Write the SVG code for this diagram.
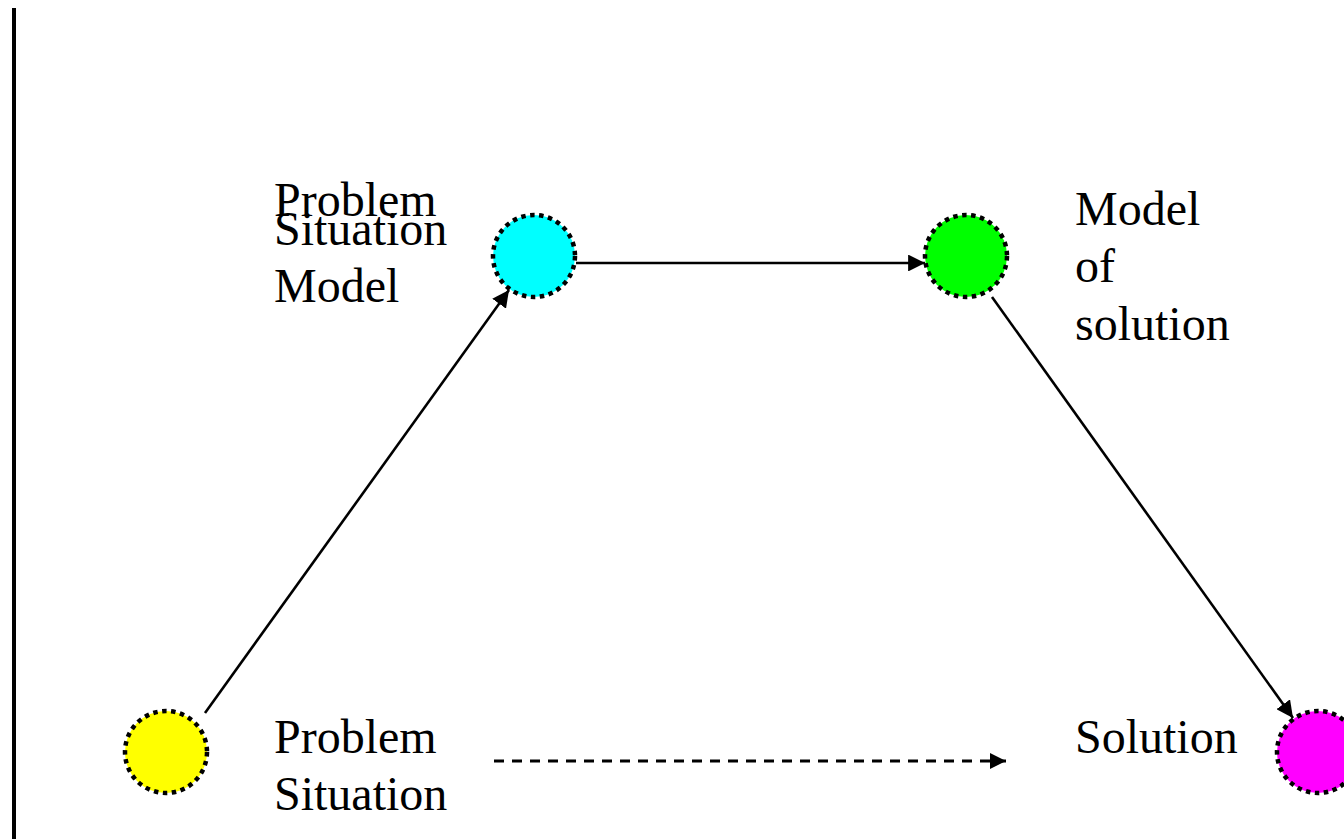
<svg xmlns="http://www.w3.org/2000/svg" width="1344" height="839" viewBox="0 0 1344 839">
  <style>
    .node circle { stroke: #000; stroke-width: 4.5; stroke-dasharray: 4.5 4.5; }
    .label { font-family: "Liberation Serif", "Times New Roman", serif; font-size: 48px; fill: #000; }
    .edge { stroke: #000; stroke-width: 2.6; fill: none; }
    .dashed { stroke-width: 3; stroke-dasharray: 10 8; }
  </style>
  <defs>
    <marker id="arrow" viewBox="0 0 10 10" refX="10" refY="5" markerWidth="6.5" markerHeight="6.5" markerUnits="strokeWidth" orient="auto">
      <path d="M0,0 L10,5 L0,10 z" fill="#000"/>
    </marker>
    <marker id="arrow-dashed" viewBox="0 0 10 10" refX="10" refY="5" markerWidth="5.5" markerHeight="5.5" markerUnits="strokeWidth" orient="auto">
      <path d="M0,0 L10,5 L0,10 z" fill="#000"/>
    </marker>
  </defs>

  <rect width="1344" height="839" fill="#fff"/>
  <!-- left border rule -->
  <rect x="12" y="8" width="4" height="831" fill="#000"/>

  <g id="connectors">
    <line class="edge" x1="205" y1="713" x2="509" y2="290" marker-end="url(#arrow)"/>
    <line class="edge" x1="576" y1="263" x2="925" y2="263" marker-end="url(#arrow)"/>
    <line class="edge" x1="992" y1="297" x2="1293" y2="718" marker-end="url(#arrow)"/>
    <line class="edge dashed" x1="494" y1="761" x2="1006" y2="761" marker-end="url(#arrow-dashed)"/>
  </g>

  <g id="problem-situation" class="node">
    <circle cx="166" cy="752" r="41" fill="#ffff00"/>
    <text class="label" x="274" y="753">Problem</text>
    <text class="label" x="274" y="810">Situation</text>
  </g>

  <g id="problem-situation-model" class="node">
    <circle cx="534" cy="256" r="41" fill="#00ffff"/>
    <text class="label" x="274" y="216">Problem</text>
    <text class="label" x="274" y="245">Situation</text>
    <text class="label" x="274" y="302">Model</text>
  </g>

  <g id="model-of-solution" class="node">
    <circle cx="966" cy="256" r="41" fill="#00ff00"/>
    <text class="label" x="1075" y="225">Model</text>
    <text class="label" x="1075" y="282">of</text>
    <text class="label" x="1075" y="340">solution</text>
  </g>

  <g id="solution" class="node">
    <circle cx="1318" cy="752" r="41" fill="#ff00ff"/>
    <text class="label" x="1075" y="753">Solution</text>
  </g>
</svg>
